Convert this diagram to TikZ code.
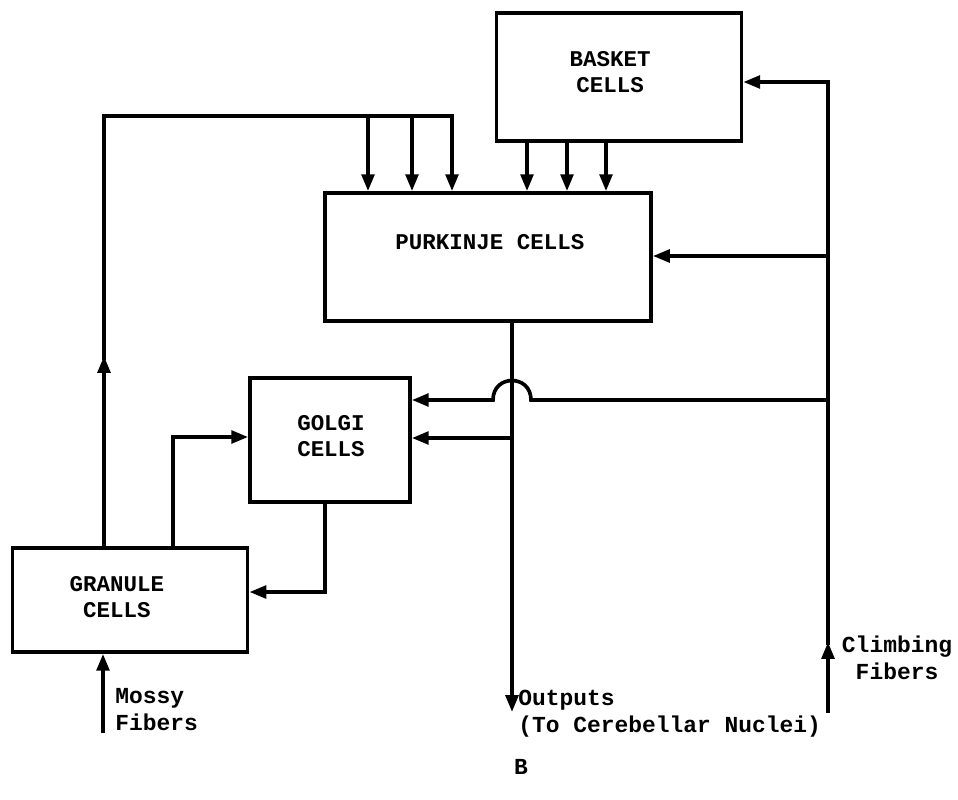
\documentclass[tikz,border=0pt]{standalone}
\usepackage{fontspec}
\setmonofont{Liberation Mono}
\usetikzlibrary{arrows.meta}

\begin{document}
\begin{tikzpicture}[
    x=0.025cm, y=-0.025cm,
    cellbox/.style={draw, line width=2.6pt},
    celltext/.style={align=center, inner sep=0pt,
                     font=\ttfamily\bfseries\fontsize{16}{19}\selectfont},
    wire/.style={line width=2.6pt},
    arr/.style={wire, -{Triangle[length=12pt,width=9pt]}},
    lbl/.style={inner sep=0pt, font=\ttfamily\bfseries\fontsize{16.3}{19}\selectfont},
]
\useasboundingbox (0,0) rectangle (958,800);
% cell populations
\node[cellbox, minimum width=6.12cm, minimum height=3.2cm] (basket) at (619,77) {};
\node[cellbox, minimum width=8.15cm, minimum height=3.2cm] (purkinje) at (488,257) {};
\node[cellbox, minimum width=4cm, minimum height=3.1cm] (golgi) at (330,440) {};
\node[cellbox, minimum width=5.88cm, minimum height=2.6cm] (granule) at (130,600) {};
\node[celltext] (basket-t) at (610,72) {BASKET\\CELLS};
\node[celltext] (purkinje-t) at (490,242) {PURKINJE CELLS};
\node[celltext] (golgi-t) at (331,436) {GOLGI\\CELLS};
\node[celltext] (granule-t) at (117,597) {GRANULE\\CELLS};
% parallel fibers
\coordinate (pf) at (104,116);
\draw[arr] (granule.north -| pf) -- (104,356);
\draw[arr] (104,360) -- (pf) -| (purkinje.north -| 452,0);
\foreach \x in {368,412}
  \draw[arr] (\x,116) -- (purkinje.north -| \x,0);
% basket to purkinje
\foreach \x in {527,567,606}
  \draw[arr] (basket.south -| \x,0) -- (purkinje.north -| \x,0);
% granule <-> golgi
\draw[arr] (granule.north -| 173,0) |- (golgi.west |- 0,437);
\draw[arr] (golgi.south -| 325,0) |- (granule.east |- 0,592);
% purkinje output
\coordinate (out) at (512,712);
\coordinate (tap) at (512,438);
\draw[arr] (purkinje.south -| out) -- (out);
\draw[arr] (tap) -- (golgi.east |- tap);
% climbing fibers
\coordinate (cf) at (828,713);
\draw[arr] (cf) -- (828,642);
\draw[arr] (828,645) |- (basket.east |- 0,82);
\draw[arr] (828,256) -- (purkinje.east |- 0,256);
\draw[arr] (828,400) -- (531,400) .. controls (531,374) and (493,374) .. (493,400)
  -- (golgi.east |- 0,400);
% mossy fibers
\coordinate (mf) at (103,733);
\draw[arr] (mf) -- (granule.south -| mf);
% labels
\node[lbl, align=left, anchor=north west] (mossy) at (115,688) {Mossy\\Fibers};
\node[lbl, align=left, anchor=north west] (outputs) at (518,690) {Outputs\\(To Cerebellar Nuclei)};
\node[lbl, align=center, anchor=north] (climbing) at (897,636) {Climbing\\Fibers};
\node[lbl] (panel) at (521,767) {B};
\end{tikzpicture}
\end{document}
